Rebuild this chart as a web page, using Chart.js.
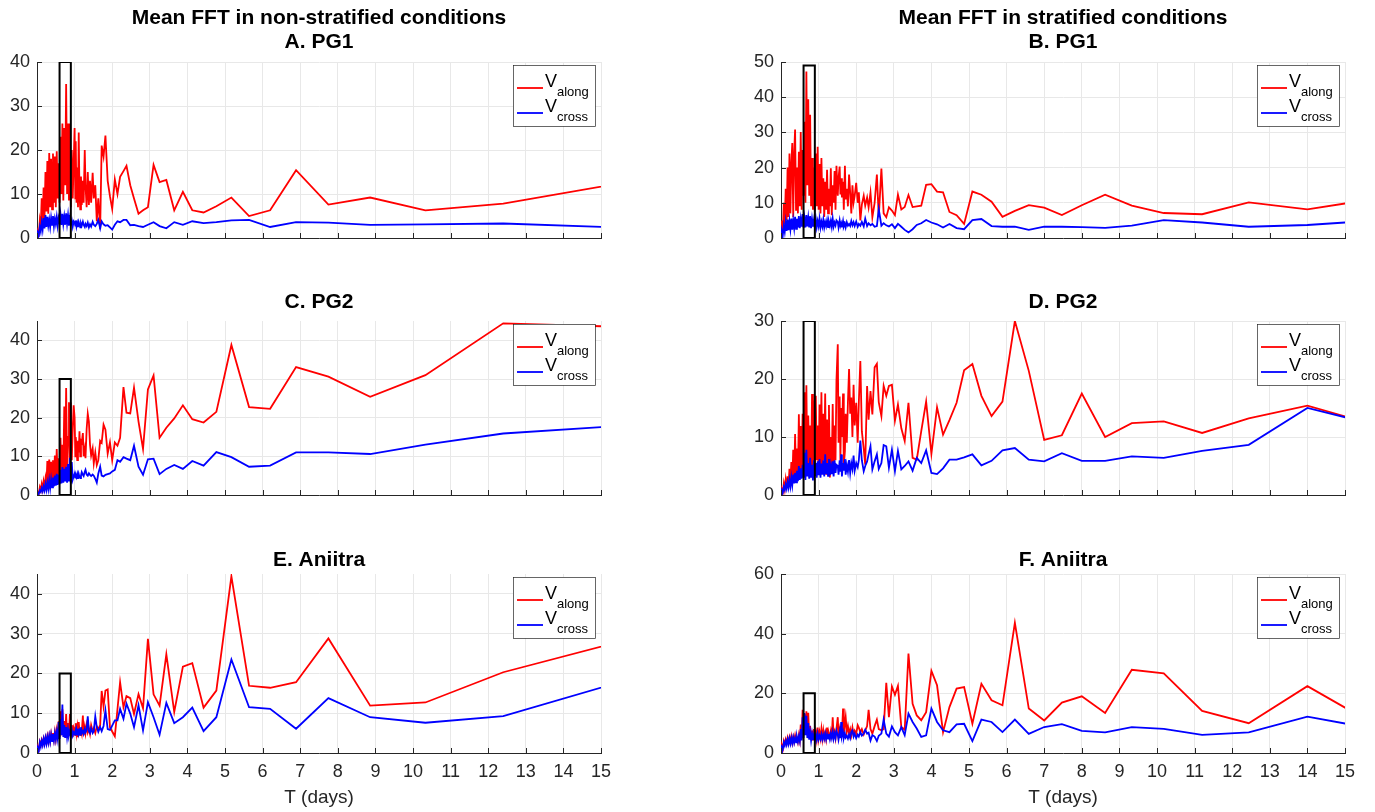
<!DOCTYPE html>
<html lang="en">
<head>
<meta charset="UTF-8">
<title>Mean FFT</title>
<script src="https://cdn.jsdelivr.net/npm/chart.js@4.4.1/dist/chart.umd.min.js"></script>
<style>
  body { margin: 0; background: #fff; }
  #wrap { position: relative; width: 1375px; height: 812px; overflow: hidden; }
  #wrap canvas { position: absolute; }
</style>
</head>
<body>
<div id="wrap"></div>
<script>
'use strict';

// periods (days) of the spectral estimates, non-stratified record
var periodNS = [0,0.025,0.05,0.075,0.1,0.125,0.15,0.175,0.2,0.225,0.25,0.275,0.3,0.325,0.35,0.375,0.4,0.425,0.45,0.475,
  0.5,0.525,0.55,0.575,0.6,0.625,0.65,0.675,0.7,0.725,0.75,0.775,0.8,0.825,0.85,0.875,0.9,0.925,0.95,0.975,
  1.0,1.02,1.03,1.05,1.07,1.09,1.11,1.13,1.15,1.17,1.19,1.22,1.24,1.27,1.29,1.32,1.35,1.38,1.41,1.44,1.48,1.51,1.55,1.59,1.63,1.68,1.72,1.77,1.82,1.88,1.94,2.0,
  2.07,2.14,2.21,2.3,2.38,2.48,2.58,2.7,2.82,2.95,3.1,3.26,3.44,3.65,3.88,4.13,4.43,4.77,5.17,5.64,6.2,6.89,7.75,8.86,10.33,12.4,15.5];

// periods (days), stratified record
var periodS = [0,0.025,0.05,0.075,0.1,0.125,0.15,0.175,0.2,0.225,0.25,0.275,0.3,0.325,0.35,0.375,0.4,0.425,0.45,0.475,
  0.5,0.525,0.55,0.575,0.6,0.625,0.65,0.675,0.7,0.725,0.75,0.775,0.8,0.825,0.85,0.875,0.9,0.925,0.95,0.975,
  1.0,1.025,1.05,1.075,1.1,1.125,1.15,1.175,1.2,1.225,1.25,1.275,1.3,1.325,1.35,1.375,1.4,1.425,1.45,1.475,
  1.51,1.53,1.56,1.58,1.6,1.62,1.65,1.67,1.7,1.72,1.75,1.78,1.81,1.84,1.87,1.9,1.93,1.96,2.0,2.04,
  2.07,2.11,2.15,2.2,2.24,2.29,2.33,2.38,2.43,2.49,2.55,2.6,2.67,2.73,2.8,2.87,2.95,
  3.03,3.11,3.2,3.29,3.39,3.5,3.61,3.73,3.86,4.0,4.15,4.31,4.48,4.67,4.87,5.09,5.33,5.6,5.89,6.22,
  6.59,7.0,7.47,8.0,8.62,9.33,10.18,11.2,12.44,14.0,16.0];

// A. PG1, non-stratified
var alongA = [0,1.5,1,4,2.5,9,3.5,11.5,4.5,15,6,17.5,5.5,19.3,7,18,6.5,19.2,8,18.5,7,19.7,9,17,8,23,10,26,8.5,25,12,35,10,26,8.5,26,7,20,9,17,
  25,9,22,8,16,7,24,10,6.5,14,7.5,13,8,20,12,7,15,7.5,13,8,14.8,9,12,3.8,9,2,21,18.5,23.3,13,9.5,6.6,
  13.3,10,13.9,15.2,16.4,12,9,5.5,6.3,7.0,16.6,12.7,13.2,6.3,10.5,6.3,5.8,7.2,9.2,5.0,6.3,15.4,7.6,9.2,6.3,7.8,12.4];
var crossA = [0,1.2,0.8,2.5,1.5,3.5,2,4.5,2.2,5.2,2.5,4.8,2.8,4.2,2.5,4.6,3,5,2.7,4.4,3.2,4.8,2.8,4.5,3.4,5.3,3,5.5,3.2,4.9,3,5.6,3.3,5.2,2.8,4.5,3.2,4,2.6,3.8,
  3.5,2.8,4,2.6,3.4,2.5,3.6,3.0,2.4,3.3,2.8,3.7,3.0,2.5,3.2,2.7,3.5,2.4,3.1,2.6,3.7,3.0,2.7,3.2,4.1,2.2,3.8,3.1,2.8,2.9,2.4,1.9,
  3.0,3.8,3.6,4.1,4.1,2.9,3.0,2.7,2.5,3.0,3.6,2.7,2.2,3.6,3.0,3.8,3.4,3.6,4.0,4.1,2.5,3.6,3.5,3.0,3.1,3.3,2.4];

// B. PG1, stratified
var alongB = [0,5,2,10,4,14,5,20,6,24,7,21,27,6,24,30.8,8,20,7,24.5,9,30.1,8,25,12,33,10,47.3,15,39.4,12,35,9,22.7,8,20,7.5,24,9,25.9,
  8,21,7,22.7,9,17,6,16,8,19.4,7,14,9,19.8,6.5,15,10,19,8,20.5,
  12,17,20.3,12.4,17,11.5,16,8,20.5,11,14,9,18,12.9,7,15,10.1,12,15.7,10,13,5,9.5,12,9.2,11.5,8.7,12.9,5.9,10,18,5.9,19.7,7,5.9,8.7,7.8,
  6.5,12.3,8.1,8.8,12.2,8.8,9,9.2,15.1,15.3,13.2,13,7.4,6.5,4,13.2,12.3,10.3,6,7.7,9.35,8.6,6.5,9.3,12.3,9.2,7.1,6.75,10.1,8.15,11.45];
var crossB = [0,2,1,3.5,1.8,4.5,2,5.2,2.2,4.8,2.5,5.5,2.4,5,2.8,6,2.6,5.5,3,6.2,2.8,5.4,3.2,6.8,2.9,5.6,3,6.5,3.3,5.8,3,6.2,2.8,5.4,3.2,5,2.9,5.5,3.1,4.8,
  3.4,5.5,3,4.6,3.3,5.2,3,4.5,3.4,5,3.1,4.6,3.5,4.9,3.2,5.5,3.3,4.4,3.6,5,
  4.5,3,5,3.5,4.2,3,4.8,3.2,4,3,4.5,3.5,4,3.4,4.8,3.6,4.5,3.4,4.7,3.2,4,3.5,4.6,3.3,5.5,3.4,4.2,3.6,4,3.2,3.4,8.2,3.5,4.2,3.6,3.3,3.9,
  2.8,4,3.2,2.3,1.6,2.5,3.7,4.2,5.1,4.4,3.9,3,4,2.8,2.5,5.1,5.4,3.4,3.2,3.2,2.3,3.2,3.2,3.1,2.9,3.5,5.1,4.4,3.2,3.7,5.1];

// C. PG2, non-stratified
var alongC = [0,0.8,0.5,2,1.2,2.8,1.5,3.5,2,4.2,2.2,8.8,2.8,9.2,3,8.6,3.5,9,3.8,10.2,4,11.9,4.5,9.5,5,14.8,5.5,13,6,22.9,6.5,27.7,7,15,24,6,23.9,9,16.9,23.2,
  20,10,15,12.7,9,14,11,16.5,10,14,13.6,16,10,11.9,9.5,17,21,19,13,10.2,12,8.2,11,7.75,9,14,13.5,18.2,16.9,10.7,13.6,9,
  13.6,12.75,14.8,27.9,21.3,21.1,27.75,19,11.9,27.3,30.9,14.8,17.4,19.8,23.2,19.6,18.75,21.5,38.8,22.75,22.3,33.1,30.6,25.4,31.0,44.4,43.5];
var crossC = [0,0.6,0.4,1.2,0.8,1.8,1,2.2,1.2,2.8,1.4,3.2,1.6,3.8,1.8,4,2,4.5,2.2,5,2.4,5.5,2.6,5.2,2.8,6.5,3,7.2,3.2,6.8,3.5,7.3,3.2,8,3.5,9.6,3,8.5,4,4.8,
  5.5,4.5,5.2,4.6,5.4,4.2,5.4,4.6,4.4,5.0,5.9,5.2,4.9,6.0,6.5,5.3,5.0,5.6,5.2,4.9,5.3,5.0,4.2,3.2,5.5,7.3,5.0,4.8,5.2,5.4,5.6,6.1,
  6.5,9,8.6,9.8,9.4,9,12.75,7.3,5.25,9.25,9.4,5.4,6.75,7.75,6.75,8.8,7.6,11.1,9.8,7.3,7.6,11,11,10.6,13.05,15.9,17.9];

// D. PG2, stratified
var alongD = [0,1,0.6,2,1,2.6,1.2,3.2,1.5,4.5,2,5.7,2.2,7.8,2.5,10.5,3,8,3.2,13.9,3.5,11.9,4,14,4.5,17.7,5,18.9,4,13.7,5,12,3.5,17.4,5,16.3,4,17.1,6,12,
  3.5,15.6,5,17.7,4,14,6,17.5,3.5,13,5,15.5,3,10,5,15.7,4,12,6,19.7,
  26,9,17,6,15,10,17.5,5,7.6,14,9,16,21.7,14,16.8,10,19,12,15.9,9,16,23.1,11,8,5.25,18.8,13,17.9,13.9,22,22.6,16,13.6,18.8,17.1,18.8,19,
  12.8,15.6,11.5,9.3,15.9,6.4,6.1,11,16.1,7.1,15.1,10.4,12.9,15.9,21.5,22.6,17.1,13.6,16.1,30,21.4,9.5,10.3,17.5,10.0,12.4,12.7,10.7,13.2,15.4,11.7];
var crossD = [0,0.8,0.5,1.4,0.9,1.8,1.1,2.2,1.3,2.6,1.5,3,1.7,3.5,2,3.8,2.2,4.2,2.4,5,2.6,4.6,2.8,5.2,3,7.3,2.6,7.8,3.2,5.5,2.8,6.4,3,5.2,2.5,6,3.3,5.5,3,5.8,
  3.4,6.2,3,5.4,3.5,6,3.2,7,3.6,5.5,3.3,6.2,3.4,5,3.6,5.8,3.2,6,3.8,5.2,
  5,3.5,6,4,7,3.2,5.5,4.2,6.2,3.5,5.2,4,6,3.8,5.5,4.5,6.8,4.2,5.5,4.8,6,9.4,6,4.1,5,5.8,7,8.4,4.4,5.8,7,4.5,5.5,8.6,8.4,4.7,7.8,
  4.1,7.6,4.4,5,5.8,4.2,6.4,5.5,7.7,3.8,3.6,4.6,6.1,6.1,6.5,7,5.1,5.9,7.7,8.1,6.1,5.8,7.2,5.9,5.9,6.65,6.4,7.6,8.65,15.0,11.8];

// E. Aniitra, non-stratified
var alongE = [0,1.5,1,2.8,2,3.2,2.2,3.6,2.5,3.8,2.6,4.2,2.8,4.4,3,4.8,3.2,5,3.4,5.3,3.5,5.6,3.8,8,4,10.5,4.5,11,5,8,4.2,9.8,3.8,7.5,4.5,9.8,4.2,7,4,6.5,
  6,4.5,7.5,5,6.5,4,7.8,5.5,4.5,6,5,9.4,4.5,6.5,5,7,5.2,6.2,4.8,7,5.5,6.2,5,6.7,6,7,15.6,11.7,15.7,16,6.5,5.4,
  4.2,11,17.8,11.5,14.3,13.8,9.8,14.8,11.25,28.7,14.75,11.9,24.8,10.3,21.7,22.6,11.4,15.7,44.4,16.9,16.4,17.8,28.8,11.9,12.7,20.3,28];
var crossE = [0,1.3,0.8,2.6,1.6,3,2,3.5,2.2,3.8,2.4,4,2.6,4.3,2.8,4.6,3,4.8,3.2,5,3.4,5.2,3.6,7.8,3.5,8.5,4.5,12.2,4,7,3.8,6.5,4,6,4.5,5.5,4.2,5.8,4.4,5.2,
  4.8,5.5,4.4,5.8,4.6,6.1,4.8,5.6,4.6,6.5,5,5.5,4.8,6,5.2,5.8,9.2,5.5,5,6.2,5,5.5,9.2,6.5,5.3,6.5,5.5,6.8,10.7,6,5.8,6.9,
  8.2,8.2,11.1,8.6,12.4,9.9,6.5,12,5.7,12.8,9,4.6,12.6,7.5,9,11.4,5.5,9,23.5,11.5,11.1,6.1,13.8,9.0,7.6,9.25,17.8];

// F. Aniitra, stratified
var alongF = [0,2.5,1.5,4,3,4.5,3.2,5,3.5,5.2,3.6,5.5,3.5,5.3,3.8,5.8,4,5.5,3.8,6,4.2,9.5,4.5,14.5,6,13,8,14,6,13.5,5,9,4.5,7.5,4.2,8,4.5,7,4.6,8.5,
  4.8,7,5,8,4.8,7.5,5,6.8,4.8,8.5,5,6.5,5.2,7.2,5,12,5.5,7,5,8,
  12,6,8,5.5,9,6,14.9,6,10,12,7,9,6.5,8,6,8.5,6.2,7.5,6.5,9.3,8.5,7,8,6.2,7.5,9,14.5,8,6.5,9,11.2,8,7.6,8,23.5,12,22.3,
  19.5,22.5,8.7,7.8,33.3,16.5,12.6,11,13.7,27.5,22.7,7,15.4,21.6,22.1,9.8,23.2,17.7,16,43.6,14.9,10.9,16.9,19,13.4,27.9,26.7,14.1,10.0,22.4,8.0];
var crossF = [0,2,1.5,3.5,2.5,4,2.8,4.5,3,4.8,3.2,5,3.3,5.2,3.5,5,3.6,5.3,3.8,5.5,4,8,4.2,12,5,13.4,6,12.5,5,10,4.5,7,4.2,6.5,4.3,6,4.4,6.2,4.5,6.5,
  4.6,5.8,4.7,6.2,4.6,6,4.8,6.5,4.6,6.2,4.8,6.4,4.7,6.5,5,7,4.8,6.5,5,7.5,
  6,4.5,7,5,10.4,5.5,7,5,6.5,5.2,5.8,4.8,6.2,5,7,7.6,5.5,6.5,5,6.2,5.5,7,5.8,6.5,7.8,6.5,6.8,4.2,6,5.5,4,5.8,6.5,11.2,6.5,5.5,8.9,
  7,5.9,8.7,6,13.2,10.4,8.2,5.4,5.9,14.9,10.4,7.6,7,9.6,9.8,4,11.2,10.4,7,11.2,6.4,8.7,9.7,7.4,6.9,8.7,8.1,6.1,6.9,12.2,7.6];

// highlighted period window (days) and its height in each panel
var boxT = [0.6, 0.9];
var boxTop = { A: 40, B: 49, C: 30, D: 30, E: 20, F: 20 };

var FONT = 'Helvetica, "Liberation Sans", Arial, sans-serif';
var INK = '#262626';

var rows = [
  { top: 0,   h: 262, padTop: 62, padBottom: 16, xh: 8,  titleY: [18, 42] },
  { top: 262, h: 253, padTop: 59, padBottom: 12, xh: 8,  titleY: [40] },
  { top: 515, h: 297, padTop: 59, padBottom: 25, xh: 34, titleY: [45], xlabelY: 283 }
];
var cols = [0, 744];

var panels = [
  { key: 'A', row: 0, col: 0, T: periodNS, along: alongA, cross: crossA, ymax: 40, step: 10,
    title: ['Mean FFT in non-stratified conditions', 'A. PG1'] },
  { key: 'B', row: 0, col: 1, T: periodS, along: alongB, cross: crossB, ymax: 50, step: 10,
    title: ['Mean FFT in stratified conditions', 'B. PG1'] },
  { key: 'C', row: 1, col: 0, T: periodNS, along: alongC, cross: crossC, ymax: 45, step: 10, title: ['C. PG2'] },
  { key: 'D', row: 1, col: 1, T: periodS, along: alongD, cross: crossD, ymax: 30, step: 10, title: ['D. PG2'] },
  { key: 'E', row: 2, col: 0, T: periodNS, along: alongE, cross: crossE, ymax: 45, step: 10, title: ['E. Aniitra'] },
  { key: 'F', row: 2, col: 1, T: periodS, along: alongF, cross: crossF, ymax: 60, step: 20, title: ['F. Aniitra'] }
];

function pts(T, v) {
  var out = [];
  for (var i = 0; i < Math.min(T.length, v.length); i++) out.push({ x: T[i], y: v[i] });
  return out;
}

// small inward tick marks on the left and bottom axes
var innerTicks = {
  id: 'innerTicks',
  afterDatasetsDraw: function(chart) {
    var ctx = chart.ctx, a = chart.chartArea;
    var xs = chart.scales.x, ys = chart.scales.y;
    ctx.save();
    ctx.strokeStyle = INK;
    ctx.lineWidth = 1;
    ctx.beginPath();
    xs.ticks.forEach(function(t) {
      var px = Math.round(xs.getPixelForValue(t.value)) + 0.5;
      ctx.moveTo(px, a.bottom);
      ctx.lineTo(px, a.bottom - 5);
    });
    ys.ticks.forEach(function(t) {
      var py = Math.round(ys.getPixelForValue(t.value)) + 0.5;
      ctx.moveTo(a.left, py);
      ctx.lineTo(a.left + 5, py);
    });
    ctx.stroke();
    ctx.restore();
  }
};

// titles, x label and the V_along / V_cross legend with subscripts
var panelText = {
  id: 'panelText',
  afterDraw: function(chart) {
    var o = chart.options.plugins.panelText;
    var ctx = chart.ctx, a = chart.chartArea;
    var cx = (a.left + a.right) / 2;
    ctx.save();
    ctx.textAlign = 'center';
    ctx.textBaseline = 'middle';
    ctx.fillStyle = '#000';
    ctx.font = 'bold 21px ' + FONT;
    o.title.forEach(function(t, i) { ctx.fillText(t, cx, o.titleY[i]); });
    if (o.xlabelY) {
      ctx.fillStyle = INK;
      ctx.font = '19px ' + FONT;
      ctx.fillText('T (days)', cx, o.xlabelY);
    }
    var bw = 82, bh = 61, bx = Math.round(a.right - 6 - bw), by = Math.round(a.top + 3);
    ctx.fillStyle = '#fff';
    ctx.fillRect(bx, by, bw, bh);
    ctx.strokeStyle = INK;
    ctx.lineWidth = 0.7;
    ctx.strokeRect(bx + 0.5, by + 0.5, bw, bh);
    [['along', '#ff0000', 23], ['cross', '#0000ff', 48]].forEach(function(e) {
      var ly = by + e[2];
      ctx.strokeStyle = e[1];
      ctx.lineWidth = 1.8;
      ctx.beginPath();
      ctx.moveTo(bx + 4, ly);
      ctx.lineTo(bx + 30, ly);
      ctx.stroke();
      ctx.fillStyle = '#000';
      ctx.textAlign = 'left';
      ctx.textBaseline = 'alphabetic';
      ctx.font = '18px ' + FONT;
      ctx.fillText('V', bx + 32, ly - 1);
      ctx.font = '13px ' + FONT;
      ctx.fillText(e[0], bx + 44, ly + 8);
    });
    ctx.restore();
  }
};

var wrap = document.getElementById('wrap');

panels.forEach(function(p) {
  var r = rows[p.row];
  var cv = document.createElement('canvas');
  cv.width = 620;
  cv.height = r.h;
  cv.style.left = cols[p.col] + 'px';
  cv.style.top = r.top + 'px';
  wrap.appendChild(cv);
  var showX = p.row === 2;
  var bt = boxTop[p.key];

  new Chart(cv.getContext('2d'), {
    type: 'line',
    data: {
      datasets: [{
        data: [{ x: boxT[0], y: 0 }, { x: boxT[0], y: bt }, { x: boxT[1], y: bt }, { x: boxT[1], y: 0 }, { x: boxT[0], y: 0 }],
        borderColor: '#000',
        borderWidth: 2
      }, {
        data: pts(p.T, p.cross),
        borderColor: '#0000ff',
        borderWidth: 1.8
      }, {
        data: pts(p.T, p.along),
        borderColor: '#ff0000',
        borderWidth: 1.8
      }]
    },
    options: {
      responsive: false,
      animation: false,
      events: [],
      layout: { padding: { top: r.padTop, bottom: r.padBottom, left: 0, right: 19 } },
      elements: { point: { radius: 0 }, line: { tension: 0, fill: false } },
      plugins: {
        legend: { display: false },
        tooltip: { enabled: false },
        panelText: { title: p.title, titleY: r.titleY, xlabelY: r.xlabelY }
      },
      scales: {
        x: {
          type: 'linear', min: 0, max: 15,
          ticks: { stepSize: 1, display: showX, autoSkip: false, maxRotation: 0, includeBounds: false,
                   color: INK, padding: 8, font: { family: FONT, size: 18 } },
          grid: { color: '#e8e8e8', drawTicks: false },
          border: { color: INK, width: 1 },
          afterFit: function(s) { s.height = r.xh; }
        },
        y: {
          type: 'linear', min: 0, max: p.ymax,
          ticks: { stepSize: p.step, includeBounds: false, color: INK, padding: 7,
                   font: { family: FONT, size: 18 } },
          grid: { color: '#e8e8e8', drawTicks: false },
          border: { color: INK, width: 1 },
          afterFit: function(s) { s.width = 37; }
        }
      }
    },
    plugins: [innerTicks, panelText]
  });
});
</script>
</body>
</html>
